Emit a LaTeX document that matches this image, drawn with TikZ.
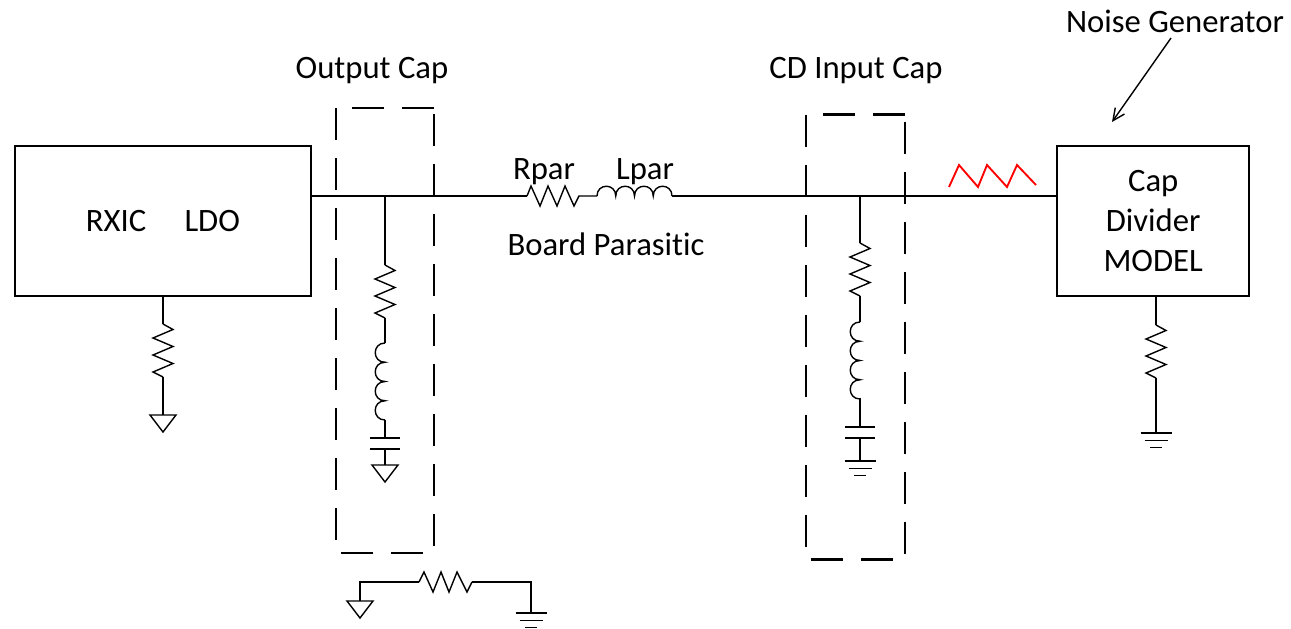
\documentclass[tikz,border=0pt]{standalone}
\usepackage{fontspec}
\setmainfont[Ligatures=NoCommon]{Carlito}
\usetikzlibrary{arrows.meta}
\tikzset{
  x=0.75pt,y=-0.75pt,
  wire/.style={line width=1.5pt,black,line join=miter},
  thin wire/.style={line width=1.05pt,black,line join=miter},
  block/.style={draw,line width=1.5pt,minimum width=222pt,inner sep=0pt,minimum height=112.5pt,align=center,font=\fontsize{24.5}{30}\selectfont},
  label/.style={inner sep=0pt,font=\fontsize{24.5}{30}\selectfont,anchor=base},
  dashbox/.style={line width=1.6pt,dash pattern=on 24pt off 13.5pt},
  noise/.style={line width=1.4pt,red,line join=miter},
  vres/.pic={\draw[thin wire] (0,0) -- (10,5.5) -- (-10,14) -- (10,22.5) -- (-10,31) -- (10,39.5) -- (-10,48) -- (0,53);},
  vind/.pic={\draw[thin wire] (0,0) .. controls (-13,0) and (-13,19.25) .. (0,19.25) .. controls (-13,19.25) and (-13,38.5) .. (0,38.5) .. controls (-13,38.5) and (-13,57.75) .. (0,57.75) .. controls (-13,57.75) and (-13,77) .. (0,77);},
  hind/.pic={\draw[thin wire] (0,0) .. controls (0,-13) and (18.75,-13) .. (18.75,0) .. controls (18.75,-13) and (37.5,-13) .. (37.5,0) .. controls (37.5,-13) and (56.25,-13) .. (56.25,0) .. controls (56.25,-13) and (75,-13) .. (75,0);},
  capa/.pic={\draw[thin wire] (-15,0) -- (15,0) (-15,11) -- (15,11);},
  tri/.pic={\draw[thin wire] (-13,0) -- (13,0) -- (0,17) -- cycle;},
  earth/.pic={\draw[thin wire] (-15.5,0) -- (15.5,0) (-11.5,7.5) -- (11.5,7.5) (-6,14.5) -- (6,14.5);},
}
\begin{document}
\begin{tikzpicture}
\useasboundingbox (0,0) rectangle (1291,628);
% blocks
\node[block] (ldo) at (163,221) {\raisebox{-1pt}{RXIC\hspace{1.17em}LDO}};
\node[block,minimum width=143.6pt] (div) at (1153.2,221) {Cap\\Divider\\MODEL};
% labels
\node[label] (outcap) at (372,78) {Output Cap};
\node[label] (incap) at (856,78) {CD Input Cap};
\node[label] (noisegen) at (1175,32) {Noise Generator};
\node[label] (rpar) at (544,179) {Rpar};
\node[label] (lpar) at (645,179) {Lpar};
\node[label] (board) at (606,255) {Board Parasitic};
% coordinates
\coordinate (ldoout) at (311,196);
\coordinate (j1) at (385,196);
\coordinate (rparin) at (527,196);
\coordinate (rparout) at (579,196);
\coordinate (lparin) at (597,196);
\coordinate (lparout) at (672,196);
\coordinate (j2) at (860,196);
\coordinate (divin) at (1057.5,196);
% dashed boxes
\coordinate (oa) at (336,108); \coordinate (ob) at (336,553); \coordinate (oc) at (434,553); \coordinate (od) at (434,108);
\coordinate (ia) at (806,114.5); \coordinate (ib) at (806,559.5); \coordinate (ic) at (905,559.5); \coordinate (id) at (905,114.5);
\draw[dashbox] (oa) -- (ob) -- (oc) -- (od);
\draw[dashbox] (od) -- (oa);
\draw[dashbox] (ia) -- (ib) -- (ic) -- (id);
\draw[dashbox] (id) -- (ia);
% main line
\draw[wire] (ldoout) -- (rparin);
\draw[thin wire] (rparin) -- (531,186) -- (540,206) -- (548,186) -- (557,206) -- (565,186) -- (574,206) -- (rparout) -- (lparin);
\pic at (lparin) {hind};
\draw[wire] (lparout) -- (divin);
% LDO branch
\coordinate (a1) at (163,296); \coordinate (a2) at (163,324); \coordinate (a3) at (163,377); \coordinate (a4) at (163,415);
\draw[wire] (a1) -- (a2);
\pic at (a2) {vres};
\draw[wire] (a3) -- (a4);
\pic at (a4) {tri};
% output cap branch
\coordinate (b1) at (385,265); \coordinate (b2) at (385,318); \coordinate (b3) at (385,343); \coordinate (b4) at (385,420); \coordinate (b5) at (385,438); \coordinate (b6) at (385,449); \coordinate (b7) at (385,465);
\draw[wire,line width=1.2pt] (j1) -- (b1);
\pic at (b1) {vres};
\draw[thin wire] (b2) -- (b3);
\pic at (b3) {vind};
\draw[thin wire] (b4) -- (b5);
\pic at (b5) {capa};
\draw[thin wire] (b6) -- (b7);
\pic at (b7) {tri};
% CD cap branch
\coordinate (c1) at (860,243); \coordinate (c2) at (860,296); \coordinate (c3) at (860,322); \coordinate (c4) at (860,398); \coordinate (c5) at (860,427); \coordinate (c6) at (860,438); \coordinate (c7) at (860,461);
\draw[wire,line width=1.2pt] (j2) -- (c1);
\pic at (c1) {vres};
\draw[thin wire] (c2) -- (c3);
\pic at (c3) {vind};
\draw[thin wire] (c4) -- (c5);
\pic at (c5) {capa};
\draw[thin wire] (c6) -- (c7);
\pic at (c7) {earth};
% divider branch
\coordinate (d1) at (1156,296); \coordinate (d2) at (1156,325); \coordinate (d3) at (1156,378); \coordinate (d4) at (1156,433);
\draw[wire] (d1) -- (d2);
\pic at (d2) {vres};
\draw[wire] (d3) -- (d4);
\pic at (d4) {earth};
% bottom resistor
\coordinate (e0) at (360,601); \coordinate (e1) at (360,582); \coordinate (e2) at (419,582); \coordinate (e3) at (472,582); \coordinate (e4) at (531,582); \coordinate (e5) at (531,613);
\pic at (e0) {tri};
\draw[wire] (e0) -- (e1) -- (e2);
\draw[thin wire] (e2) -- (424,572) -- (433,592) -- (441,572) -- (449,592) -- (457,572) -- (467,592) -- (e3);
\draw[wire] (e3) -- (e4) -- (e5);
\pic at (e5) {earth};
% noise
\coordinate (n0) at (949,187);
\draw[noise] (n0) -- (959,165) -- (978,187) -- (987,165) -- (1007,187) -- (1017,165) -- (1036,185);
% arrow
\coordinate (ar0) at (1171,38);
\coordinate (ar1) at (1112,122);
\draw[thin wire,-{Straight Barb[length=9pt,width=10pt,angle'=50]}] (ar0) -- (ar1);
\end{tikzpicture}
\end{document}
